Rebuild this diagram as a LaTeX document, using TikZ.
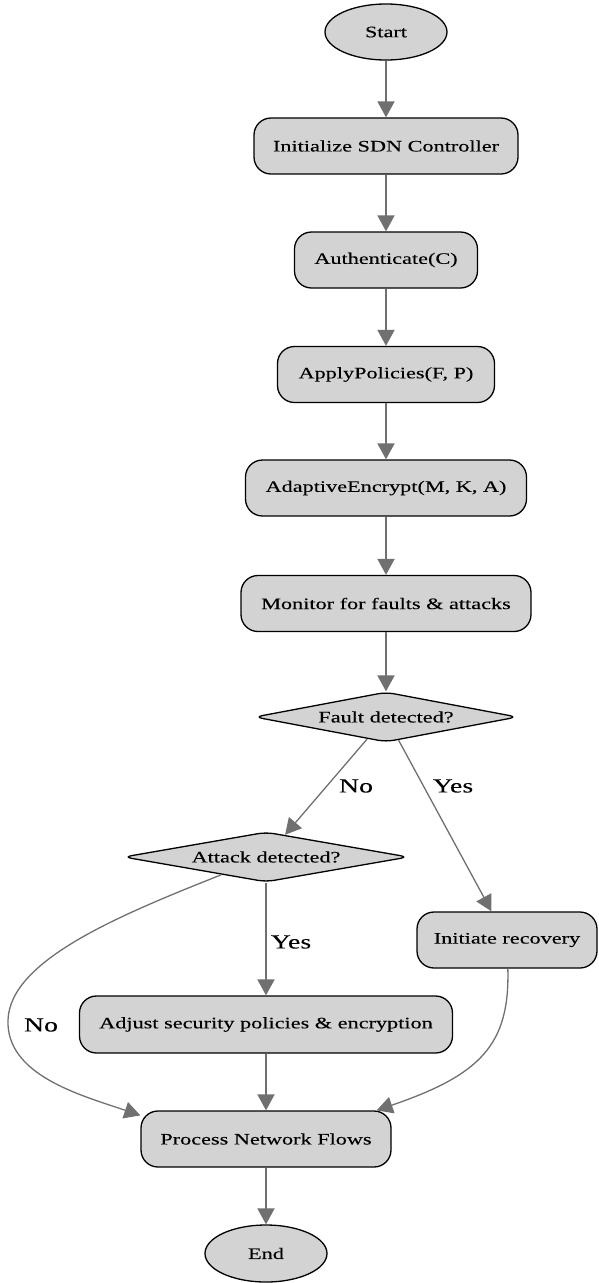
\documentclass[tikz,border=0pt]{standalone}
\usepackage{fontspec}
\setmainfont{Liberation Serif}[FakeStretch=1.39,FakeBold=0.15]
\usetikzlibrary{shapes.geometric,arrows.meta}
\definecolor{nodefill}{RGB}{211,211,211}
\definecolor{edgegray}{RGB}{112,112,112}
\begin{document}
\begin{tikzpicture}[x=1pt,y=-1pt,
  base/.style={draw=black, line width=1.3pt, fill=nodefill, font=\fontsize{16}{19}\selectfont, inner sep=0pt},
  term/.style={base, ellipse, minimum width=122pt, minimum height=56pt},
  proc/.style={base, rectangle, rounded corners=17pt, minimum height=56pt},
  dec/.style={base, diamond, aspect=5.5, rounded corners=8pt, minimum height=50pt},
  flow/.style={draw=edgegray, line width=1.9pt, -{Triangle[length=16pt,width=17pt]}},
  flowc/.style={draw=edgegray, line width=1.3pt, -{Triangle[length=16pt,width=17pt]}},
  lbl/.style={font=\fontsize{20}{24}\selectfont, inner sep=0pt}
]
\useasboundingbox (0,0) rectangle (599,1283);

\node[term] (start) at (386,32) {Start};
\node[proc, minimum width=264pt] (init) at (386,146) {Initialize SDN Controller};
\node[proc, minimum width=183pt] (auth) at (386,260) {Authenticate(C)};
\node[proc, minimum width=217pt] (apply) at (386,374.5) {ApplyPolicies(F, P)};
\node[proc, minimum width=281pt] (adapt) at (386,488) {AdaptiveEncrypt(M, K, A)};
\node[proc, minimum width=290pt] (monitor) at (386,603.5) {Monitor for faults \& attacks};
\node[dec, minimum width=263pt] (fault) at (386,717) {Fault detected?};
\node[dec, minimum width=285pt] (attack) at (266,857) {Attack detected?};
\node[proc, minimum width=180pt] (recovery) at (507,940) {Initiate recovery};
\node[proc, minimum width=373pt, minimum height=57pt] (adjust) at (266,1024.5) {Adjust security policies \& encryption};
\node[proc, minimum width=250pt] (process) at (266,1139) {Process Network Flows};
\node[term, minimum height=57pt] (end) at (266,1253.5) {End};

\draw[flow] (start) -- (init);
\draw[flow] (init) -- (auth);
\draw[flow] (auth) -- (apply);
\draw[flow] (apply) -- (adapt);
\draw[flow] (adapt) -- (monitor);
\draw[flow] (monitor) -- (fault);
\draw[flowc] (fault) -- (attack);
\draw[flowc] (fault) -- (recovery);
\draw[flow] (attack) -- (adjust);
\draw[flowc] (attack) .. controls (120,915) and (10,960) .. (8,1020) .. controls (6,1075) and (80,1095) .. ([yshift=-5pt]process.north west);
\draw[flow] (adjust) -- (process);
\draw[flowc] (recovery) .. controls (510,1045) and (480,1075) .. ([xshift=-15pt]process.north east);
\draw[flow] (process) -- (end);

\node[lbl] (lno1) at (356,786) {No};
\node[lbl] (lyes1) at (453,786) {Yes};
\node[lbl] (lyes2) at (291,942) {Yes};
\node[lbl] (lno2) at (41,1025) {No};
\end{tikzpicture}
\end{document}
